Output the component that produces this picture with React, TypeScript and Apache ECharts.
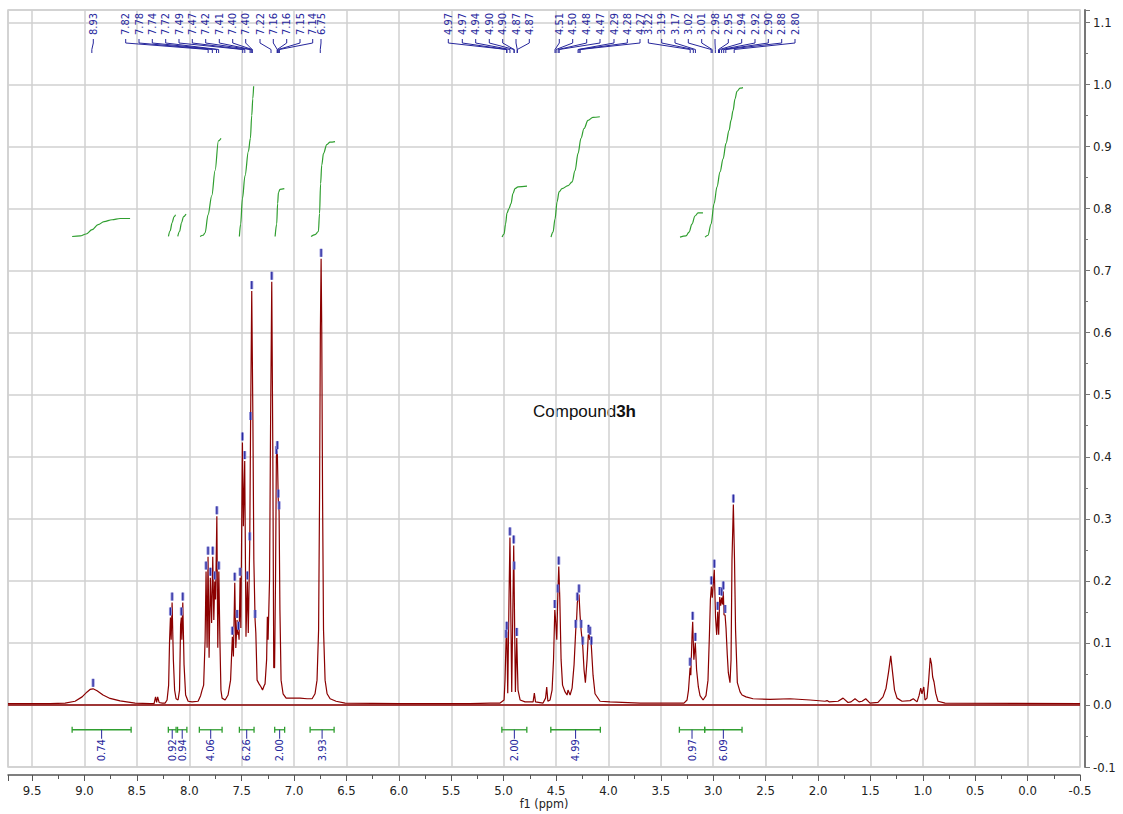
import React, { useEffect, useRef } from "react";
import * as echarts from "echarts";

// ---------- spectrum (ppm, intensity) ----------
const SPEC_AROMATIC: number[][] = [
  [9.73, 0.002], [9.328, 0.002], [9.185, 0.003], [9.09, 0.006], [9.023, 0.013], [8.975, 0.021], [8.947, 0.025],
  [8.918, 0.026], [8.88, 0.023], [8.823, 0.016], [8.756, 0.0105], [8.66, 0.0065], [8.517, 0.003], [8.374, 0.002],
  [8.336, 0.002], [8.322, 0.013], [8.312, 0.004], [8.302, 0.013], [8.288, 0.004], [8.259, 0.003], [8.231, 0.003],
  [8.212, 0.008], [8.197, 0.032], [8.188, 0.105], [8.18, 0.141], [8.173, 0.105], [8.164, 0.165], [8.152, 0.073],
  [8.14, 0.024], [8.126, 0.01], [8.107, 0.008], [8.093, 0.024], [8.083, 0.129], [8.076, 0.141], [8.071, 0.105],
  [8.062, 0.165], [8.05, 0.065], [8.035, 0.016], [8.011, 0.006], [7.973, 0.005], [7.916, 0.006], [7.892, 0.015],
  [7.878, 0.024], [7.863, 0.032], [7.849, 0.105], [7.84, 0.215], [7.83, 0.092], [7.821, 0.239], [7.811, 0.076],
  [7.799, 0.205], [7.787, 0.132], [7.776, 0.239], [7.766, 0.137], [7.757, 0.199], [7.749, 0.17], [7.737, 0.304],
  [7.728, 0.092], [7.718, 0.215], [7.708, 0.105], [7.698, 0.024], [7.687, 0.011], [7.658, 0.008], [7.63, 0.016],
  [7.606, 0.04], [7.589, 0.11], [7.579, 0.078], [7.566, 0.197], [7.556, 0.092], [7.544, 0.137], [7.537, 0.113],
  [7.531, 0.118], [7.525, 0.105], [7.515, 0.205], [7.508, 0.124], [7.493, 0.423], [7.484, 0.288], [7.471, 0.393],
  [7.459, 0.11], [7.446, 0.199], [7.437, 0.116], [7.423, 0.262], [7.415, 0.456], [7.404, 0.667], [7.393, 0.46],
  [7.384, 0.234], [7.372, 0.137], [7.365, 0.116], [7.353, 0.04], [7.334, 0.034], [7.315, 0.029], [7.301, 0.024],
  [7.286, 0.031], [7.277, 0.034], [7.262, 0.073], [7.255, 0.142], [7.248, 0.105], [7.234, 0.202], [7.224, 0.46],
  [7.213, 0.682], [7.203, 0.412], [7.194, 0.06], [7.186, 0.06], [7.177, 0.202], [7.169, 0.401], [7.16, 0.409],
  [7.151, 0.331], [7.143, 0.312], [7.135, 0.153], [7.124, 0.04], [7.105, 0.018], [7.076, 0.011], [7.019, 0.011],
  [6.943, 0.011], [6.876, 0.01], [6.828, 0.01], [6.8, 0.018], [6.781, 0.04], [6.766, 0.121], [6.757, 0.331],
  [6.749, 0.606], [6.742, 0.719], [6.736, 0.606], [6.728, 0.331], [6.719, 0.121], [6.704, 0.04], [6.685, 0.018],
  [6.656, 0.01], [6.599, 0.006], [6.513, 0.003],
];

const SPEC_MID: number[][] = [
  [5.988, 0.002], [5.32, 0.002], [5.13, 0.003], [5.034, 0.003], [4.996, 0.008], [4.987, 0.04], [4.977, 0.105],
  [4.97, 0.118], [4.961, 0.019], [4.949, 0.17], [4.94, 0.27], [4.923, 0.021], [4.904, 0.257], [4.888, 0.021],
  [4.875, 0.108], [4.863, 0.024], [4.843, 0.008], [4.796, 0.005], [4.719, 0.005], [4.707, 0.019], [4.696, 0.005],
  [4.624, 0.003], [4.6, 0.011], [4.589, 0.029], [4.578, 0.006], [4.557, 0.008], [4.538, 0.024], [4.524, 0.073],
  [4.512, 0.153], [4.503, 0.134], [4.493, 0.105], [4.483, 0.178], [4.474, 0.223], [4.464, 0.17], [4.452, 0.073],
  [4.438, 0.032], [4.414, 0.021], [4.395, 0.016], [4.386, 0.024], [4.366, 0.016], [4.347, 0.027], [4.328, 0.065],
  [4.312, 0.121], [4.304, 0.137], [4.297, 0.165], [4.288, 0.173], [4.281, 0.178], [4.271, 0.145], [4.261, 0.121],
  [4.245, 0.094], [4.233, 0.057], [4.22, 0.036], [4.204, 0.073], [4.192, 0.113], [4.185, 0.113], [4.178, 0.105],
  [4.171, 0.11], [4.163, 0.094], [4.147, 0.048], [4.128, 0.018], [4.08, 0.006], [3.985, 0.005], [3.698, 0.003],
];

const SPEC_ALIPHATIC: number[][] = [
  [3.279, 0.003], [3.25, 0.008], [3.236, 0.024], [3.221, 0.06], [3.214, 0.048], [3.202, 0.113], [3.196, 0.134],
  [3.185, 0.073], [3.171, 0.1], [3.159, 0.057], [3.142, 0.029], [3.126, 0.015], [3.097, 0.008], [3.069, 0.015],
  [3.05, 0.04], [3.037, 0.11], [3.027, 0.17], [3.018, 0.191], [3.009, 0.173], [3.0, 0.194], [2.99, 0.218],
  [2.978, 0.141], [2.967, 0.113], [2.957, 0.15], [2.948, 0.113], [2.938, 0.174], [2.929, 0.16], [2.919, 0.173],
  [2.911, 0.162], [2.904, 0.183], [2.897, 0.145], [2.887, 0.145], [2.878, 0.124], [2.866, 0.081], [2.856, 0.052],
  [2.84, 0.036], [2.83, 0.073], [2.821, 0.234], [2.808, 0.323], [2.797, 0.234], [2.787, 0.121], [2.77, 0.036],
  [2.744, 0.021], [2.725, 0.016], [2.687, 0.013], [2.62, 0.01], [2.458, 0.009], [2.267, 0.01], [2.076, 0.008],
  [1.933, 0.006], [1.914, 0.007], [1.895, 0.005], [1.809, 0.006], [1.761, 0.011], [1.714, 0.004], [1.685, 0.005],
  [1.647, 0.01], [1.609, 0.005], [1.58, 0.006], [1.545, 0.01], [1.504, 0.003], [1.428, 0.004], [1.38, 0.013],
  [1.351, 0.027], [1.327, 0.053], [1.306, 0.079], [1.289, 0.053], [1.27, 0.024], [1.246, 0.011], [1.198, 0.006],
  [1.122, 0.007], [1.091, 0.01], [1.055, 0.005], [1.036, 0.015], [1.02, 0.027], [1.008, 0.018], [0.991, 0.029],
  [0.979, 0.008], [0.96, 0.011], [0.944, 0.04], [0.929, 0.076], [0.917, 0.066], [0.906, 0.045], [0.893, 0.037],
  [0.877, 0.019], [0.855, 0.006], [0.788, 0.003], [-0.5, 0.002],
];

// ---------- peak picking ----------
const PEAK_LABELS: number[] = [
  8.93, 7.82, 7.78, 7.74, 7.72, 7.49, 7.47, 7.42, 7.41, 7.40, 7.40, 7.22, 7.16, 7.16, 7.15, 7.14, 6.75,
  4.97, 4.97, 4.94, 4.90, 4.90, 4.87, 4.87, 4.51, 4.50, 4.48, 4.47, 4.29, 4.28, 4.27,
  3.22, 3.19, 3.17, 3.02, 3.01, 2.98, 2.95, 2.94, 2.92, 2.90, 2.88, 2.80,
];
// horizontal layout slots (px) of the spread-out peak labels
const LABEL_SLOTS: number[] = [
  93.3, 125.7, 139, 152.3, 165.7, 179, 192.3, 205.7, 219.3, 232.7, 245.7, 260, 273.3, 286.7, 300, 312.7, 321,
  448.3, 462.3, 475.7, 489.3, 502.7, 516, 529.3, 559.3, 572.7, 586.7, 600, 614, 627.3, 640,
  648.3, 661.7, 675, 688.3, 701.7, 715, 728.3, 741.7, 755, 768.3, 781.7, 795,
];
const PICKS: number[][] = [
  [8.918, 0.026],
  [8.18, 0.141], [8.164, 0.165], [8.076, 0.141], [8.062, 0.165],
  [7.84, 0.215], [7.821, 0.239], [7.799, 0.205], [7.776, 0.239], [7.757, 0.199], [7.737, 0.304], [7.718, 0.215],
  [7.589, 0.11], [7.566, 0.197], [7.544, 0.137], [7.531, 0.118], [7.515, 0.205], [7.493, 0.423], [7.471, 0.393],
  [7.446, 0.199], [7.423, 0.262], [7.415, 0.456], [7.404, 0.667], [7.372, 0.137],
  [7.213, 0.682], [7.169, 0.401], [7.16, 0.409], [7.151, 0.331], [7.143, 0.312],
  [6.742, 0.719],
  [4.977, 0.105], [4.97, 0.118], [4.94, 0.27], [4.904, 0.257], [4.9, 0.215], [4.875, 0.108],
  [4.512, 0.153], [4.483, 0.178], [4.474, 0.223], [4.312, 0.121], [4.297, 0.165], [4.281, 0.178], [4.261, 0.121],
  [4.245, 0.094], [4.19, 0.113], [4.176, 0.11], [4.163, 0.094],
  [3.221, 0.06], [3.196, 0.134], [3.171, 0.1], [3.018, 0.191], [2.99, 0.218], [2.957, 0.15], [2.938, 0.174],
  [2.919, 0.173], [2.904, 0.183], [2.887, 0.145], [2.808, 0.323],
];

// ---------- integrals ----------
const INTEGRAL_RANGES: number[][] = [
  [9.118, 8.555], [8.2, 8.126], [8.112, 8.023], [7.904, 7.687], [7.522, 7.382], [7.185, 7.09], [6.847, 6.618],
  [5.017, 4.779], [4.55, 4.077], [3.323, 3.082], [3.082, 2.725],
];
const INTEGRAL_VALUES: number[] = [0.74, 0.92, 0.94, 4.06, 6.26, 2.0, 3.93, 2.0, 4.99, 0.97, 6.09];

const INT_CURVE_1 = [[9.118, 0.755], [9.042, 0.756], [8.985, 0.759], [8.927, 0.766], [8.87, 0.774], [8.813, 0.779], [8.737, 0.782], [8.66, 0.784], [8.565, 0.784]];
const INT_CURVE_2 = [[8.199, 0.755], [8.183, 0.764], [8.164, 0.777], [8.145, 0.787], [8.131, 0.79]];
const INT_CURVE_3 = [[8.11, 0.755], [8.093, 0.763], [8.074, 0.777], [8.055, 0.787], [8.031, 0.791]];
const INT_CURVE_4 = [[7.897, 0.755], [7.868, 0.757], [7.849, 0.761], [7.821, 0.79], [7.785, 0.821], [7.754, 0.861], [7.722, 0.909], [7.697, 0.913]];
const INT_CURVE_5 = [[7.522, 0.755], [7.51, 0.775], [7.493, 0.816], [7.468, 0.853], [7.436, 0.892], [7.417, 0.913], [7.404, 0.95], [7.394, 0.977], [7.386, 0.997]];
const INT_CURVE_6 = [[7.181, 0.755], [7.166, 0.775], [7.157, 0.808], [7.149, 0.826], [7.134, 0.831], [7.093, 0.832]];
const INT_CURVE_7 = [[6.838, 0.755], [6.8, 0.758], [6.768, 0.763], [6.757, 0.792], [6.747, 0.84], [6.736, 0.87], [6.719, 0.889], [6.688, 0.903], [6.657, 0.907], [6.609, 0.908]];
const INT_CURVE_8 = [[5.015, 0.754], [4.996, 0.759], [4.982, 0.775], [4.968, 0.793], [4.949, 0.8], [4.93, 0.808], [4.911, 0.824], [4.892, 0.832], [4.863, 0.835], [4.777, 0.836]];
const INT_CURVE_9 = [[4.548, 0.754], [4.529, 0.762], [4.51, 0.783], [4.49, 0.811], [4.471, 0.827], [4.443, 0.832], [4.385, 0.837], [4.347, 0.843], [4.319, 0.861], [4.29, 0.889], [4.262, 0.913], [4.233, 0.929], [4.195, 0.942], [4.148, 0.947], [4.082, 0.948]];
const INT_CURVE_10 = [[3.317, 0.754], [3.26, 0.756], [3.231, 0.762], [3.203, 0.775], [3.174, 0.788], [3.145, 0.793], [3.098, 0.793]];
const INT_CURVE_11 = [[3.078, 0.754], [3.05, 0.757], [3.021, 0.775], [2.992, 0.808], [2.964, 0.835], [2.935, 0.859], [2.906, 0.88], [2.878, 0.905], [2.849, 0.926], [2.83, 0.942], [2.811, 0.958], [2.792, 0.977], [2.773, 0.989], [2.744, 0.994], [2.716, 0.995]];

const INTEGRAL_BAR_LEVEL = -0.04;

const FONT = "'DejaVu Sans Condensed', 'DejaVu Sans', sans-serif";
const BLUE = "#26269c";
const GREEN = "#2f9e2f";
const RED = "#8b0000";

const isMult = (v: number, step: number) => Math.abs(v / step - Math.round(v / step)) < 1e-6;

export default function App() {
  const ref = useRef<HTMLDivElement>(null);

  useEffect(() => {
    if (!ref.current) return;
    const chart = echarts.init(ref.current, null, { renderer: "svg", width: 1123, height: 814 });
    const spectrum = [...SPEC_AROMATIC, ...SPEC_MID, ...SPEC_ALIPHATIC];
    const curves = [INT_CURVE_1, INT_CURVE_2, INT_CURVE_3, INT_CURVE_4, INT_CURVE_5, INT_CURVE_6, INT_CURVE_7, INT_CURVE_8, INT_CURVE_9, INT_CURVE_10, INT_CURVE_11];

    const curveSeries = curves.map((c) => ({
      type: "line",
      data: c,
      showSymbol: false,
      symbol: "none",
      smooth: 0.35,
      smoothMonotone: "x",
      lineStyle: { color: GREEN, width: 1.2 },
      silent: true,
      z: 3,
    }));

    const option: any = {
      animation: false,
      backgroundColor: "#ffffff",
      grid: {
        left: 8, right: 43, top: 10, bottom: 47,
        outerBoundsMode: "none",
        containLabel: false,
        show: true, borderColor: "#cfcfcf", borderWidth: 1.5,
      },
      xAxis: {
        type: "value",
        min: -0.5,
        max: 9.73,
        interval: 0.5,
        inverse: true,
        offset: 8,
        name: "f1 (ppm)",
        nameLocation: "middle",
        nameGap: 22,
        nameMoveOverlap: false,
        nameTextStyle: { fontFamily: FONT, fontSize: 12.5, color: "#222" },
        axisLine: { show: true, onZero: false, lineStyle: { color: "#555", width: 1.5 } },
        axisTick: { show: true, length: 6, lineStyle: { color: "#555", width: 1 } },
        minorTick: { show: true, splitNumber: 2, length: 4, lineStyle: { color: "#555", width: 1 } },
        splitLine: { show: true, lineStyle: { color: "#d0d0d0", width: 1.5 } },
        axisLabel: {
          fontFamily: FONT,
          fontSize: 13,
          color: "#222",
          margin: 9,
          formatter: (v: number) => (isMult(v, 0.5) && v < 9.6 ? (Math.abs(v) < 1e-9 ? "0.0" : v.toFixed(1)) : ""),
        },
      },
      yAxis: {
        type: "value",
        position: "right",
        min: -0.1,
        max: 1.12,
        interval: 0.1,
        offset: 5,
        axisLine: { show: true, onZero: false, lineStyle: { color: "#777", width: 2 } },
        axisTick: { show: true, length: 5, lineStyle: { color: "#777", width: 1 } },
        minorTick: { show: true, splitNumber: 2, length: 3, lineStyle: { color: "#777", width: 1 } },
        splitLine: { show: true, lineStyle: { color: "#d0d0d0", width: 1.5 } },
        axisLabel: {
          fontFamily: FONT,
          fontSize: 13,
          color: "#222",
          margin: 8,
          formatter: (v: number) => (isMult(v, 0.1) && v < 1.115 ? (Math.abs(v) < 1e-9 ? "0.0" : v.toFixed(1)) : ""),
        },
      },
      graphic: [
        {
          type: "text",
          left: 533,
          top: 403,
          style: {
            text: "{a|Compound}{b|3h}",
            rich: {
              a: { fontFamily: "'Liberation Sans', Arial, sans-serif", fontSize: 17, fill: "#111" },
              b: { fontFamily: "'Liberation Sans', Arial, sans-serif", fontSize: 17, fontWeight: "bold", fill: "#111" },
            },
          },
        },
      ],
      series: [
        {
          type: "line",
          data: spectrum,
          showSymbol: false,
          symbol: "none",
          lineStyle: { color: RED, width: 1.2 },
          silent: true,
          z: 4,
          markLine: {
            silent: true,
            symbol: "none",
            label: { show: false },
            lineStyle: { color: RED, width: 1.5, type: "solid" },
            data: [{ yAxis: 0 }],
          },
        },
        ...curveSeries,
        {
          type: "custom",
          clip: false,
          silent: true,
          z: 6,
          data: PICKS,
          renderItem: (params: any, api: any) => {
            const p = api.coord([api.value(0), api.value(1)]);
            return {
              type: "group",
              children: [
                { type: "rect", shape: { x: p[0] - 1.5, y: p[1] - 10, width: 3, height: 8 }, style: { fill: "#8b8bd8" } },
                { type: "line", shape: { x1: p[0], y1: p[1] - 10, x2: p[0], y2: p[1] - 2 }, style: { stroke: "#1e1e96", lineWidth: 1 } },
              ],
            };
          },
        },
        {
          type: "custom",
          clip: false,
          silent: true,
          z: 6,
          data: PEAK_LABELS.map((v) => [v, 0]),
          renderItem: (params: any, api: any) => {
            const i = params.dataIndex;
            const px = api.coord([api.value(0), 0])[0];
            const sx = LABEL_SLOTS[i];
            return {
              type: "group",
              children: [
                {
                  type: "text",
                  x: sx,
                  y: 24,
                  rotation: Math.PI / 2,
                  style: { text: PEAK_LABELS[i].toFixed(2), fill: BLUE, font: `11px ${FONT}`, align: "center", verticalAlign: "middle" },
                },
                {
                  type: "polyline",
                  shape: { points: [[sx, 39], [sx, 43], [px, 49.5], [px, 53]] },
                  style: { stroke: BLUE, lineWidth: 1, fill: "none" },
                },
              ],
            };
          },
        },
        {
          type: "custom",
          clip: false,
          silent: true,
          z: 6,
          data: INTEGRAL_RANGES.map((r, i) => [r[0], r[1], INTEGRAL_VALUES[i]]),
          renderItem: (params: any, api: any) => {
            const a = api.coord([api.value(0), INTEGRAL_BAR_LEVEL]);
            const b = api.coord([api.value(1), INTEGRAL_BAR_LEVEL]);
            const y = a[1];
            const cx = (a[0] + b[0]) / 2;
            return {
              type: "group",
              children: [
                { type: "line", shape: { x1: a[0], y1: y, x2: b[0], y2: y }, style: { stroke: GREEN, lineWidth: 1.3 } },
                { type: "line", shape: { x1: a[0], y1: y - 3, x2: a[0], y2: y + 3 }, style: { stroke: GREEN, lineWidth: 1.3 } },
                { type: "line", shape: { x1: b[0], y1: y - 3, x2: b[0], y2: y + 3 }, style: { stroke: GREEN, lineWidth: 1.3 } },
                { type: "line", shape: { x1: cx, y1: y, x2: cx, y2: y + 9 }, style: { stroke: BLUE, lineWidth: 1 } },
                {
                  type: "text",
                  x: cx,
                  y: y + 20.5,
                  rotation: Math.PI / 2,
                  style: { text: Number(api.value(2)).toFixed(2), fill: BLUE, font: `11px ${FONT}`, align: "center", verticalAlign: "middle" },
                },
              ],
            };
          },
        },
      ],
    };

    chart.setOption(option);
    return () => chart.dispose();
  }, []);

  return (
    <div
      ref={ref}
      style={{ position: "fixed", left: 0, top: 0, width: 1123, height: 814, background: "#fff" }}
    />
  );
}
